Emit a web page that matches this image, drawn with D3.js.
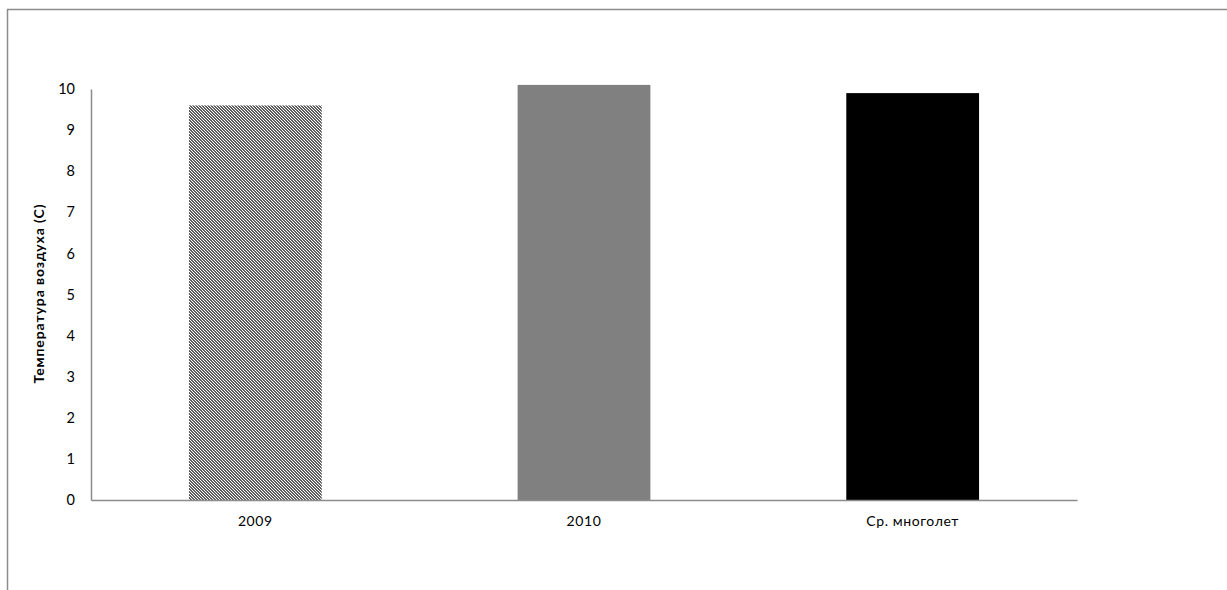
<!DOCTYPE html>
<html>
<head>
<meta charset="utf-8">
<script src="https://cdn.jsdelivr.net/npm/d3@7"></script>
<style>
  html, body { margin: 0; padding: 0; background: #fff; }
  svg { display: block; }
  text { font-family: "Lato", "Open Sans", sans-serif; fill: #000; }
</style>
</head>
<body>
<svg id="chart" width="1227" height="590"></svg>
<script>
// Average air temperature by season
const categories = ["2009", "2010", "Ср. многолет"];
const temperatures = [9.6, 10.1, 9.9];
const yTicks = [0, 1, 2, 3, 4, 5, 6, 7, 8, 9, 10];
const yTitle = "Температура воздуха (С)";

const svg = d3.select("#chart");
const W = 1227, H = 590;
const plot = { left: 91, right: 1077, top: 89, bottom: 500 };

// Chart area frame (extends beyond the right/bottom edges)
svg.append("rect")
  .attr("x", 7.5).attr("y", 9.5)
  .attr("width", W + 20).attr("height", H + 20)
  .attr("fill", "#fff")
  .attr("stroke", "#8c8c8c")
  .attr("stroke-width", 1.5);

// Fine diagonal hatch for the first bar
const defs = svg.append("defs");
const pat = defs.append("pattern")
  .attr("id", "hatch")
  .attr("patternUnits", "userSpaceOnUse")
  .attr("width", 3).attr("height", 3);
pat.append("rect").attr("width", 3).attr("height", 3).attr("fill", "#fff");
[[0, 0], [1, 0], [1, 1], [2, 1], [2, 2], [0, 2]].forEach(([px, py]) => {
  pat.append("rect").attr("x", px).attr("y", py).attr("width", 1).attr("height", 1).attr("fill", "#5e5e5e");
});

const fills = ["url(#hatch)", "#808080", "#000000"];

const x = d3.scaleBand()
  .domain(categories)
  .range([plot.left, plot.right])
  .paddingInner(0.596)
  .paddingOuter(0.298);

const y = d3.scaleLinear()
  .domain([0, 10])
  .range([plot.bottom, plot.top]);

// Bars
svg.append("g")
  .selectAll("rect")
  .data(categories)
  .join("rect")
  .attr("x", d => x(d))
  .attr("width", x.bandwidth())
  .attr("y", (d, i) => y(temperatures[i]))
  .attr("height", (d, i) => y(0) - y(temperatures[i]))
  .attr("fill", (d, i) => fills[i]);

// Y axis
const yAxis = svg.append("g")
  .attr("transform", `translate(${plot.left},0)`)
  .call(d3.axisLeft(y).tickValues(yTicks).tickSize(0).tickPadding(16).tickFormat(d3.format("d")));
yAxis.select(".domain").attr("stroke", "#8c8c8c").attr("stroke-width", 1.5);
yAxis.selectAll("text").attr("font-size", 14.5).attr("fill", "#000")
  .style("font-family", "Lato, 'Open Sans', sans-serif");

// X axis
const xAxis = svg.append("g")
  .attr("transform", `translate(0,${plot.bottom})`)
  .call(d3.axisBottom(x).tickSize(0).tickPadding(16));
xAxis.select(".domain").attr("stroke", "#8c8c8c").attr("stroke-width", 1.5);
xAxis.selectAll("text").attr("font-size", 14).attr("fill", "#000")
  .attr("letter-spacing", 0.6)
  .style("font-family", "Lato, 'Open Sans', sans-serif");

// Y axis title
svg.append("text")
  .attr("transform", `translate(44,${(plot.top + plot.bottom) / 2 - 1}) rotate(-90)`)
  .attr("text-anchor", "middle")
  .attr("font-size", 14)
  .attr("font-weight", "bold")
  .attr("letter-spacing", 0.9)
  .text(yTitle);
</script>
</body>
</html>
